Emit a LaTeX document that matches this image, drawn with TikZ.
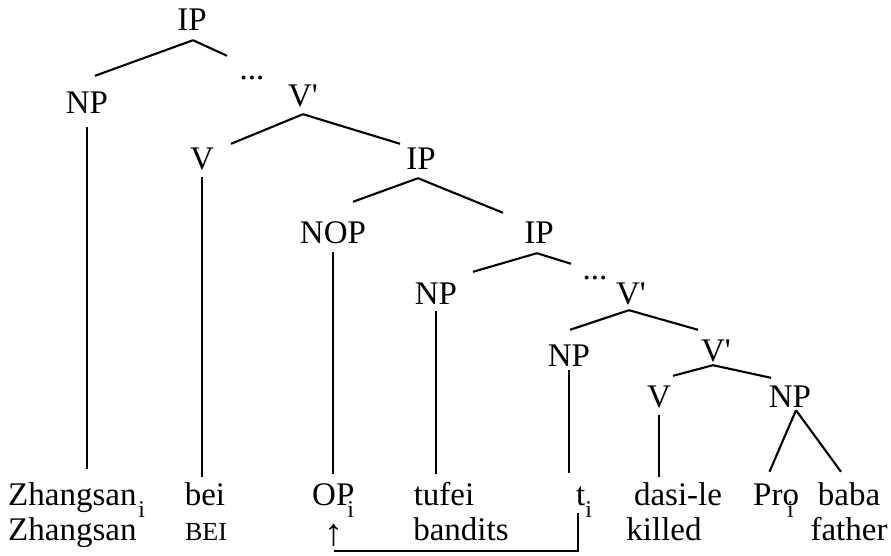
\documentclass[tikz,border=0pt]{standalone}
\usepackage{fontspec}
\setmainfont{Liberation Serif}
\usetikzlibrary{calc}
\newcommand{\subi}{\raisebox{-12pt}{\fontsize{24}{24}\selectfont i}}
\tikzset{
  lab/.style={inner sep=0pt,text height=21pt,text depth=0pt,anchor=base,
    font=\fontsize{33}{39}\selectfont},
  branch/.style={line width=2.1pt}
}
\begin{document}
\begin{tikzpicture}[x=1pt,y=-1pt]
\path[use as bounding box] (0,0) rectangle (891,556);
% tree labels
\node[lab] (ip1) at (192,31) {IP};
\node[lab] (np1) at (87,114) {NP};
\node[lab] (dt1) at (252,80) {...};
\node[lab] (vb1) at (303,107) {V\textquotesingle};
\node[lab] (v1) at (202,170) {V};
\node[lab] (ip2) at (421,170) {IP};
\node[lab] (nop) at (333,243) {NOP};
\node[lab] (ip3) at (539,243) {IP};
\node[lab] (np2) at (436,304) {NP};
\node[lab] (dt2) at (595,279) {...};
\node[lab] (vb2) at (631,304) {V\textquotesingle};
\node[lab] (np3) at (569,366) {NP};
\node[lab] (vb3) at (716,361) {V\textquotesingle};
\node[lab] (v2) at (659,407) {V};
\node[lab] (np4) at (790,407) {NP};
% words
\node[lab,anchor=base west] (zh) at (8,505) {Zhangsan\kern2pt\subi};
\node[lab] (bei) at (205,505) {bei};
\node[lab,anchor=base west] (op) at (312,505) {OP\kern-7pt\subi};
\node[lab] (tufei) at (444,505) {tufei};
\node[lab,anchor=base west] (ti) at (576,505) {t\subi};
\node[lab] (dasi) at (678,505) {dasi-le};
\node[lab,anchor=base west] (pro) at (753,505) {Pro\kern-12pt\subi};
\node[lab] (baba) at (849,505) {baba};
% glosses
\node[lab,anchor=base west] (zh2) at (8,540) {Zhangsan};
\node[lab,font=\fontsize{26}{30}\selectfont] (bei2) at (206,540) {BEI};
\node[lab,font=\fontsize{38}{42}\selectfont] (arr) at (334,545) {↑};
\node[lab] (band) at (461,540) {bandits};
\node[lab] (kill) at (664,540) {killed};
\node[lab] (fath) at (849,540) {father};
% branches
\draw[branch] ([shift={(1pt,-9pt)}]ip1.south) -- ([shift={(8pt,17pt)}]np1.north);
\draw[branch] ([shift={(1pt,-9pt)}]ip1.south) -- ([shift={(-25pt,3pt)}]dt1.north);
\draw[branch] ([yshift=-7pt]vb1.south) -- ([shift={(29pt,5pt)}]v1.north);
\draw[branch] ([yshift=-7pt]vb1.south) -- ([shift={(-21pt,5pt)}]ip2.north);
\draw[branch] ([shift={(-3pt,-8pt)}]ip2.south) -- ([shift={(20pt,20pt)}]nop.north);
\draw[branch] ([shift={(-3pt,-8pt)}]ip2.south) -- ([shift={(-36pt,9pt)}]ip3.north);
\draw[branch] ([shift={(-2pt,-10pt)}]ip3.south) -- ([shift={(37pt,11pt)}]np2.north);
\draw[branch] ([shift={(-2pt,-10pt)}]ip3.south) -- ([shift={(-24pt,-6pt)}]dt2.north);
\draw[branch] ([shift={(-2pt,-6pt)}]vb2.south) -- ([shift={(1pt,15pt)}]np3.north);
\draw[branch] ([shift={(-2pt,-6pt)}]vb2.south) -- ([shift={(-18pt,10pt)}]vb3.north);
\draw[branch] ([shift={(-3pt,-4pt)}]vb3.south) -- ([shift={(14pt,10pt)}]v2.north);
\draw[branch] ([shift={(-3pt,-4pt)}]vb3.south) -- ([shift={(-19pt,8pt)}]np4.north);
\draw[branch] ([shift={(6pt,-3pt)}]np4.south) -- ([shift={(-4pt,12pt)}]pro.north);
\draw[branch] ([shift={(6pt,-3pt)}]np4.south) -- ([shift={(-8pt,12pt)}]baba.north);
% unary lines
\draw[branch] ([yshift=-13pt]np1.south) -- ($(np1.south |- zh.north)+(0,-15)$);
\draw[branch] ([yshift=-7pt]v1.south) -- ($(v1.south |- bei.north)+(0,-7)$);
\draw[branch] ([yshift=-9pt]nop.south) -- ($(nop.south |- op.north)+(0,-10)$);
\draw[branch] ([yshift=-7pt]np2.south) -- ($(np2.south |- tufei.north)+(0,-10)$);
\draw[branch] ([yshift=-4pt]np3.south) -- ($(np3.south |- ti.north)+(0,-11)$);
\draw[branch] ([yshift=-8pt]v2.south) -- ($(v2.south |- dasi.north)+(0,-7)$);
% movement link
\draw[branch] ([yshift=-6pt]arr.south) -| ([shift={(2pt,-8pt)}]ti.south west);
\end{tikzpicture}
\end{document}
